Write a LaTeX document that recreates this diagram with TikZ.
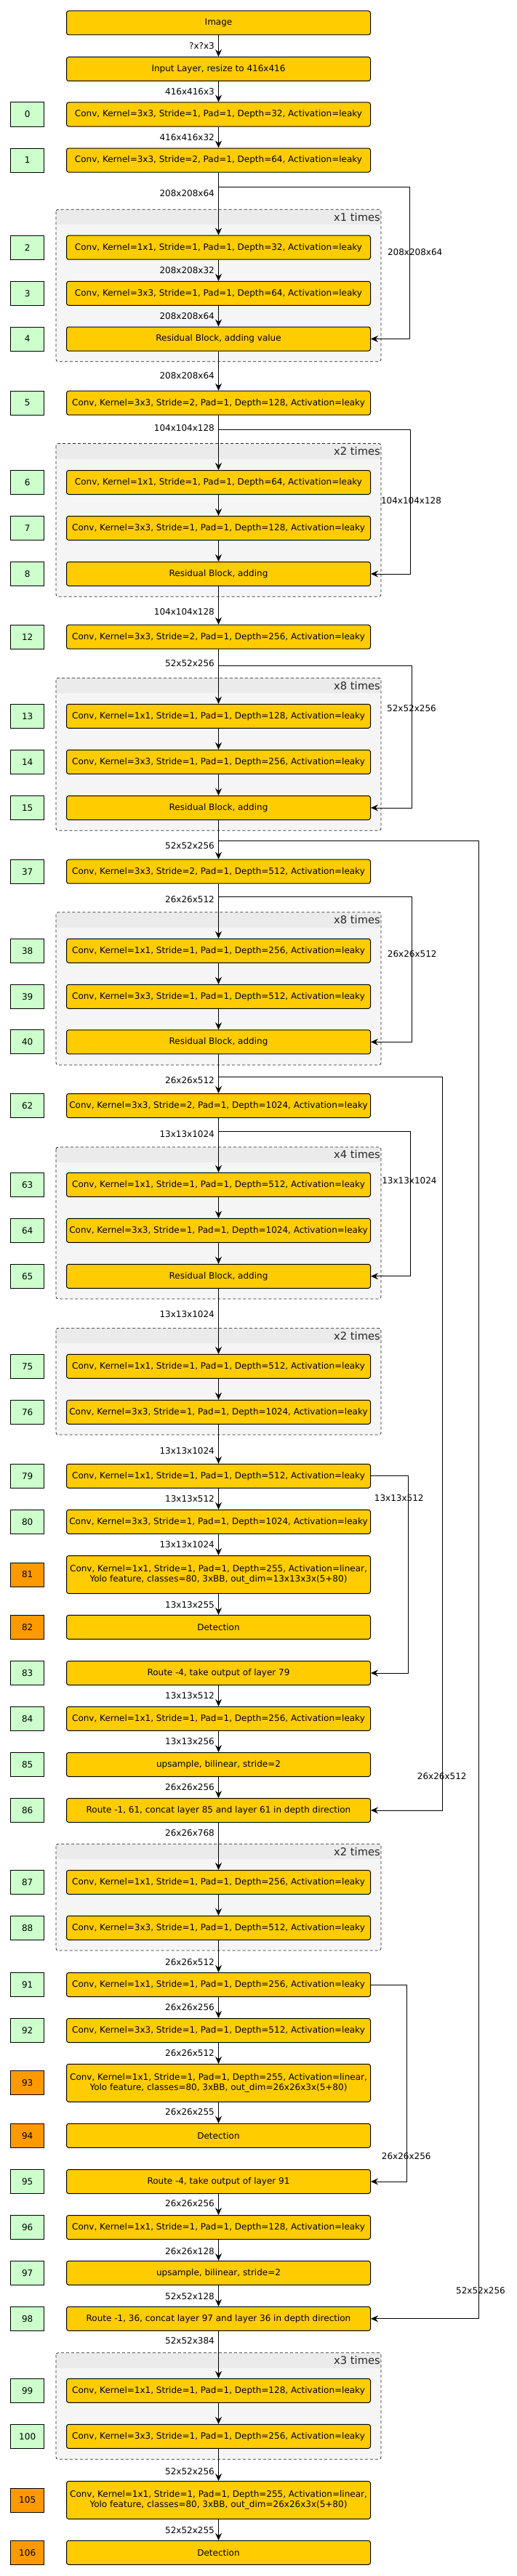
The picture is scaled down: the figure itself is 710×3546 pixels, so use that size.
\documentclass[tikz,border=0pt]{standalone}
\usepackage{fontspec}
\setmainfont{DejaVu Sans}
\usetikzlibrary{positioning,arrows.meta}
\definecolor{boxyellow}{HTML}{FFCC00}
\definecolor{idxgreen}{HTML}{CCFFCC}
\definecolor{idxorange}{HTML}{FF9900}
\definecolor{grpbody}{HTML}{F5F5F5}
\definecolor{grphead}{HTML}{EBEBEB}

\begin{document}
\begin{tikzpicture}[x=1pt, y=-1pt,
  layer/.style={rectangle, draw, rounded corners=3pt, fill=boxyellow, minimum width=418pt, minimum height=33pt, inner sep=1pt, line width=1pt},
  tall/.style={layer, minimum height=52pt, align=center},
  idx/.style={rectangle, draw, fill=idxgreen, minimum width=46pt, minimum height=33pt, inner sep=0pt, line width=1pt},
  det/.style={idx, fill=idxorange},
  dim/.style={anchor=east, inner sep=0pt},
  sdim/.style={inner sep=0pt},
  times/.style={anchor=east, inner sep=0pt, font=\fontsize{14.7}{17}\selectfont, text=black!85},
  arr/.style={-{Stealth[length=10pt, width=9pt, inset=3.5pt]}, line width=1pt},
  grp/.style={draw=black!85, dash pattern=on 4pt off 3pt, rounded corners=3pt, line width=0.8pt},
  node distance=29.8pt]
  \fontsize{12}{14}\selectfont
  \useasboundingbox (0,0) rectangle (710,3546);

  % repeated blocks
  \foreach \gt/\gb/\gn [count=\g] in {288.3/497.7/x1, 610.5/821.2/x2, 933.2/1143.3/x8, 1255.7/1466/x8,
      1579/1788/x4, 1828.3/1975/x2, 2538.3/2685/x2, 3238.7/3385.3/x3} {
    \begin{scope}
      \clip[rounded corners=3pt] (77,\gt) rectangle (524,\gb);
      \fill[grpbody] (77,\gt) rectangle (524,\gb);
      \fill[grphead] (77,\gt) rectangle (524,{\gt+21});
    \end{scope}
    \draw[grp] (77,\gt) rectangle (524,\gb);
    \node[times] (g\g) at (523,{\gt+10.5}) {\gn\ times};
  }

  \node[layer] (image) at (300.5,31.5) {Image};
  \node[layer] (input) at (300.5,95) {Input Layer, resize to 416x416};

  \node[layer] (l0) at (300.5,157.5) {Conv, Kernel=3x3, Stride=1, Pad=1, Depth=32, Activation=leaky};
  \node[idx, left=of l0] (i0) {0};
  \node[layer] (l1) at (300.5,220.5) {Conv, Kernel=3x3, Stride=2, Pad=1, Depth=64, Activation=leaky};
  \node[idx, left=of l1] (i1) {1};
  \node[layer] (l2) at (300.5,340.7) {Conv, Kernel=1x1, Stride=1, Pad=1, Depth=32, Activation=leaky};
  \node[idx, left=of l2] (i2) {2};
  \node[layer] (l3) at (300.5,403.8) {Conv, Kernel=3x3, Stride=1, Pad=1, Depth=64, Activation=leaky};
  \node[idx, left=of l3] (i3) {3};
  \node[layer] (l4) at (300.5,466.5) {Residual Block, adding value};
  \node[idx, left=of l4] (i4) {4};
  \node[layer] (l5) at (300.5,554.7) {Conv, Kernel=3x3, Stride=2, Pad=1, Depth=128, Activation=leaky};
  \node[idx, left=of l5] (i5) {5};
  \node[layer] (l6) at (300.5,664) {Conv, Kernel=1x1, Stride=1, Pad=1, Depth=64, Activation=leaky};
  \node[idx, left=of l6] (i6) {6};
  \node[layer] (l7) at (300.5,727) {Conv, Kernel=3x3, Stride=1, Pad=1, Depth=128, Activation=leaky};
  \node[idx, left=of l7] (i7) {7};
  \node[layer] (l8) at (300.5,790) {Residual Block, adding};
  \node[idx, left=of l8] (i8) {8};
  \node[layer] (l12) at (300.5,876.7) {Conv, Kernel=3x3, Stride=2, Pad=1, Depth=256, Activation=leaky};
  \node[idx, left=of l12] (i12) {12};
  \node[layer] (l13) at (300.5,985.8) {Conv, Kernel=1x1, Stride=1, Pad=1, Depth=128, Activation=leaky};
  \node[idx, left=of l13] (i13) {13};
  \node[layer] (l14) at (300.5,1048.8) {Conv, Kernel=3x3, Stride=1, Pad=1, Depth=256, Activation=leaky};
  \node[idx, left=of l14] (i14) {14};
  \node[layer] (l15) at (300.5,1112) {Residual Block, adding};
  \node[idx, left=of l15] (i15) {15};
  \node[layer] (l37) at (300.5,1199.7) {Conv, Kernel=3x3, Stride=2, Pad=1, Depth=512, Activation=leaky};
  \node[idx, left=of l37] (i37) {37};
  \node[layer] (l38) at (300.5,1308.8) {Conv, Kernel=1x1, Stride=1, Pad=1, Depth=256, Activation=leaky};
  \node[idx, left=of l38] (i38) {38};
  \node[layer] (l39) at (300.5,1371.8) {Conv, Kernel=3x3, Stride=1, Pad=1, Depth=512, Activation=leaky};
  \node[idx, left=of l39] (i39) {39};
  \node[layer] (l40) at (300.5,1434.3) {Residual Block, adding};
  \node[idx, left=of l40] (i40) {40};
  \node[layer] (l62) at (300.5,1522) {Conv, Kernel=3x3, Stride=2, Pad=1, Depth=1024, Activation=leaky};
  \node[idx, left=of l62] (i62) {62};
  \node[layer] (l63) at (300.5,1630.8) {Conv, Kernel=1x1, Stride=1, Pad=1, Depth=512, Activation=leaky};
  \node[idx, left=of l63] (i63) {63};
  \node[layer] (l64) at (300.5,1693.8) {Conv, Kernel=3x3, Stride=1, Pad=1, Depth=1024, Activation=leaky};
  \node[idx, left=of l64] (i64) {64};
  \node[layer] (l65) at (300.5,1756.8) {Residual Block, adding};
  \node[idx, left=of l65] (i65) {65};
  \node[layer] (l75) at (300.5,1880.8) {Conv, Kernel=1x1, Stride=1, Pad=1, Depth=512, Activation=leaky};
  \node[idx, left=of l75] (i75) {75};
  \node[layer] (l76) at (300.5,1943.8) {Conv, Kernel=3x3, Stride=1, Pad=1, Depth=1024, Activation=leaky};
  \node[idx, left=of l76] (i76) {76};
  \node[layer] (l79) at (300.5,2031.8) {Conv, Kernel=1x1, Stride=1, Pad=1, Depth=512, Activation=leaky};
  \node[idx, left=of l79] (i79) {79};
  \node[layer] (l80) at (300.5,2094.8) {Conv, Kernel=3x3, Stride=1, Pad=1, Depth=1024, Activation=leaky};
  \node[idx, left=of l80] (i80) {80};
  \node[tall] (l81) at (300.5,2167.5) {Conv, Kernel=1x1, Stride=1, Pad=1, Depth=255, Activation=linear,\\Yolo feature, classes=80, 3xBB, out\_dim=13x13x3x(5+80)};
  \node[det, left=of l81] (i81) {81};
  \node[layer] (l82) at (300.5,2239.8) {Detection};
  \node[det, left=of l82] (i82) {82};
  \node[layer] (l83) at (300.5,2303) {Route -4, take output of layer 79};
  \node[idx, left=of l83] (i83) {83};
  \node[layer] (l84) at (300.5,2365.8) {Conv, Kernel=1x1, Stride=1, Pad=1, Depth=256, Activation=leaky};
  \node[idx, left=of l84] (i84) {84};
  \node[layer] (l85) at (300.5,2429) {upsample, bilinear, stride=2};
  \node[idx, left=of l85] (i85) {85};
  \node[layer] (l86) at (300.5,2492) {Route -1, 61, concat layer 85 and layer 61 in depth direction};
  \node[idx, left=of l86] (i86) {86};
  \node[layer] (l87) at (300.5,2591) {Conv, Kernel=1x1, Stride=1, Pad=1, Depth=256, Activation=leaky};
  \node[idx, left=of l87] (i87) {87};
  \node[layer] (l88) at (300.5,2653.8) {Conv, Kernel=3x3, Stride=1, Pad=1, Depth=512, Activation=leaky};
  \node[idx, left=of l88] (i88) {88};
  \node[layer] (l91) at (300.5,2732) {Conv, Kernel=1x1, Stride=1, Pad=1, Depth=256, Activation=leaky};
  \node[idx, left=of l91] (i91) {91};
  \node[layer] (l92) at (300.5,2795) {Conv, Kernel=3x3, Stride=1, Pad=1, Depth=512, Activation=leaky};
  \node[idx, left=of l92] (i92) {92};
  \node[tall] (l93) at (300.5,2867.3) {Conv, Kernel=1x1, Stride=1, Pad=1, Depth=255, Activation=linear,\\Yolo feature, classes=80, 3xBB, out\_dim=26x26x3x(5+80)};
  \node[det, left=of l93] (i93) {93};
  \node[layer] (l94) at (300.5,2939.8) {Detection};
  \node[det, left=of l94] (i94) {94};
  \node[layer] (l95) at (300.5,3003) {Route -4, take output of layer 91};
  \node[idx, left=of l95] (i95) {95};
  \node[layer] (l96) at (300.5,3066) {Conv, Kernel=1x1, Stride=1, Pad=1, Depth=128, Activation=leaky};
  \node[idx, left=of l96] (i96) {96};
  \node[layer] (l97) at (300.5,3128.8) {upsample, bilinear, stride=2};
  \node[idx, left=of l97] (i97) {97};
  \node[layer] (l98) at (300.5,3191.8) {Route -1, 36, concat layer 97 and layer 36 in depth direction};
  \node[idx, left=of l98] (i98) {98};
  \node[layer] (l99) at (300.5,3290.8) {Conv, Kernel=1x1, Stride=1, Pad=1, Depth=128, Activation=leaky};
  \node[idx, left=of l99] (i99) {99};
  \node[layer] (l100) at (300.5,3353.8) {Conv, Kernel=3x3, Stride=1, Pad=1, Depth=256, Activation=leaky};
  \node[idx, left=of l100] (i100) {100};
  \node[tall] (l105) at (300.5,3441.5) {Conv, Kernel=1x1, Stride=1, Pad=1, Depth=255, Activation=linear,\\Yolo feature, classes=80, 3xBB, out\_dim=26x26x3x(5+80)};
  \node[det, left=of l105] (i105) {105};
  \node[layer] (l106) at (300.5,3513.8) {Detection};
  \node[det, left=of l106] (i106) {106};

  % main flow
  \foreach \a/\b in {image/input, input/l0, l0/l1, l1/l2, l2/l3, l3/l4, l4/l5, l5/l6, l6/l7, l7/l8,
      l8/l12, l12/l13, l13/l14, l14/l15, l15/l37, l37/l38, l38/l39, l39/l40, l40/l62, l62/l63,
      l63/l64, l64/l65, l65/l75, l75/l76, l76/l79, l79/l80, l80/l81, l81/l82, l83/l84, l84/l85,
      l85/l86, l86/l87, l87/l88, l88/l91, l91/l92, l92/l93, l93/l94, l95/l96, l96/l97, l97/l98,
      l98/l99, l99/l100, l100/l105, l105/l106}
    \draw[arr] (\a) -- (\b);

  % tensor sizes
  \foreach \y/\t [count=\k] in {63.5/?x?x3, 126/416x416x3, 189/416x416x32, 265.7/208x208x64,
      372.5/208x208x32, 435/208x208x64, 517.5/208x208x64, 588.8/104x104x128, 841.9/104x104x128,
      913.5/52x52x256, 1164.3/52x52x256, 1237.7/26x26x512, 1487/26x26x512, 1561/13x13x1024,
      1809/13x13x1024, 1996.7/13x13x1024, 2063.3/13x13x512, 2125.7/13x13x1024, 2208.7/13x13x255,
      2333.7/13x13x512, 2396.7/13x13x256, 2459.7/26x26x256, 2522.7/26x26x768, 2700.7/26x26x512,
      2762.7/26x26x256, 2825.7/26x26x512, 2907.3/26x26x255, 3033.3/26x26x256, 3098.7/26x26x128,
      3160.7/52x52x128, 3222/52x52x384, 3401.7/52x52x256, 3482.7/52x52x255}
    \node[dim] (d\k) at (295,\y) {\t};

  % shortcuts and routes
  \coordinate (s1) at (300.5,257.3);
  \coordinate (s2) at (300.5,591.2);
  \coordinate (s3) at (300.5,916.3);
  \coordinate (s4) at (300.5,1157.3);
  \coordinate (s5) at (300.5,1234.3);
  \coordinate (s6) at (300.5,1482.3);
  \coordinate (s7) at (300.5,1557.3);
  \draw[arr] (s1) -- ++(262.8,0) |- (l4.east);
  \draw[arr] (s2) -- ++(264,0) |- (l8.east);
  \draw[arr] (s3) -- ++(266,0) |- (l15.east);
  \draw[arr] (s4) -- ++(358,0) |- (l98.east);
  \draw[arr] (s5) -- ++(265.5,0) |- (l40.east);
  \draw[arr] (s6) -- ++(307.8,0) |- (l86.east);
  \draw[arr] (s7) -- ++(263.8,0) |- (l65.east);
  \draw[arr] (l79.east) -- ++(51.8,0) |- (l83.east);
  \draw[arr] (l91.east) -- ++(49.5,0) |- (l95.east);

  \foreach \x/\y/\t [count=\k] in {570.7/346.7/208x208x64, 565.5/689.4/104x104x128, 566/975.5/52x52x256,
      566.7/1313.3/26x26x512, 563/1625/13x13x1024, 548.7/2061.7/13x13x512, 607.7/2444.7/26x26x512,
      558.7/2968.3/26x26x256, 661/3153.3/52x52x256}
    \node[sdim] (e\k) at (\x,\y) {\t};

\end{tikzpicture}
\end{document}
